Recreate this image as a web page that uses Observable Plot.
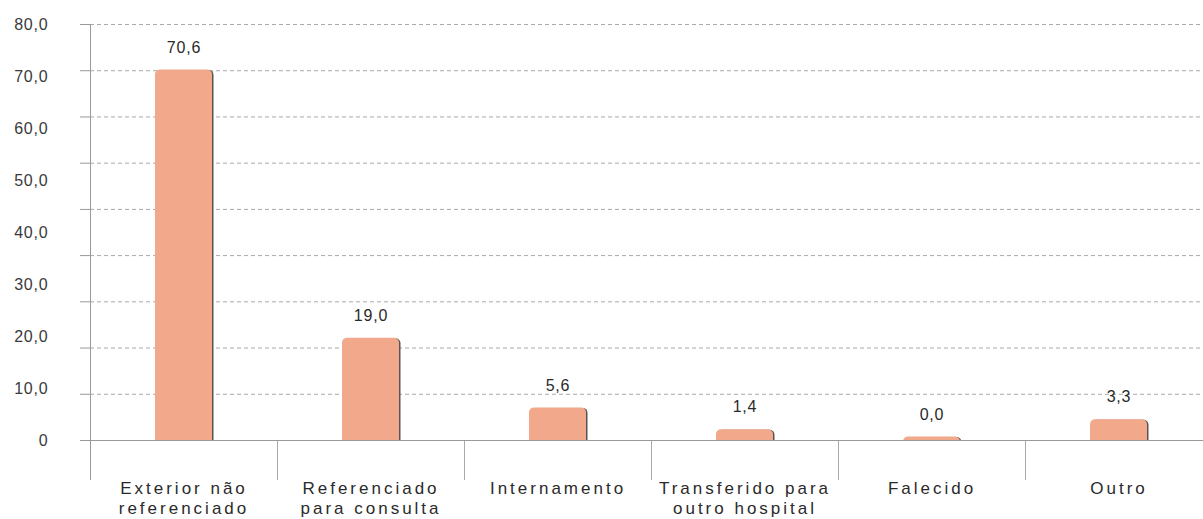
<!DOCTYPE html>
<html>
<head>
<meta charset="utf-8">
<script src="https://cdn.jsdelivr.net/npm/d3@7"></script>
<script src="https://cdn.jsdelivr.net/npm/@observablehq/plot@0.6"></script>
<style>
  html, body { margin: 0; padding: 0; background: #fff; }
  #chart svg { display: block; }
</style>
</head>
<body>
<div id="chart"></div>
<script>
const categories = [
  "Exterior não\nreferenciado",
  "Referenciado\npara consulta",
  "Internamento",
  "Transferido para\noutro hospital",
  "Falecido",
  "Outro"
];
const values = [70.6, 19.0, 5.6, 1.4, 0.0, 3.3];
const valueLabels = ["70,6", "19,0", "5,6", "1,4", "0,0", "3,3"];
const yTicks = [0, 10, 20, 30, 40, 50, 60, 70, 80];
const yTickLabels = ["0", "10,0", "20,0", "30,0", "40,0", "50,0", "60,0", "70,0", "80,0"];
// gridlines in the source are drawn at nine equal divisions, not at the labelled values
const gridLines = [8.89, 17.78, 26.67, 35.56, 44.44, 53.33, 62.22, 71.11, 80];
const gridStubs = [0, 8.89, 17.78, 26.67, 35.56, 44.44, 53.33, 62.22, 71.11, 80];
const dividerBottom = -7.7; // how far category dividers extend below zero (in y units)

const data = categories.map((c, i) => ({cat: c, value: values[i], label: valueLabels[i]}));

const W = 1203, H = 519;
const xRange = [90, 1212];
const step = (xRange[1] - xRange[0]) / categories.length;
const pIn = 0.695;

const chart = Plot.plot({
  width: W,
  height: H,
  marginTop: 24,
  marginBottom: 79,
  marginLeft: 90,
  marginRight: 0,
  style: {fontFamily: "'Liberation Sans', Arial, sans-serif", background: "#fff"},
  x: {type: "band", domain: categories, range: xRange, paddingInner: pIn, paddingOuter: pIn / 2, axis: null},
  y: {domain: [0, 80], axis: null},
  marks: [
    Plot.gridY(gridLines, {stroke: "#aaa", strokeOpacity: 1, strokeDasharray: "4,3"}),
    Plot.axisY(gridStubs, {tickSize: 10, stroke: "#999", tickFormat: () => "", label: null}),
    Plot.axisY(yTicks, {
      tickSize: 0,
      tickPadding: 42,
      fill: "#3a3a3a",
      fontSize: 16,
      label: null,
      tickFormat: d => yTickLabels[yTicks.indexOf(d)]
    }),
    // y axis line
    Plot.ruleX([categories[0]], {dx: -step / 2, y1: dividerBottom, y2: 80, stroke: "#999"}),
    // category dividers
    Plot.ruleX(categories.slice(1), {dx: -step / 2, y1: dividerBottom, y2: 0, stroke: "#aaa"}),
    // bar shadow
    Plot.barY(data, {x: "cat", y: "value", fill: "#555", rx: 5, insetTop: -3.5, insetBottom: -8, dx: 1.5, dy: 0.5, clip: true}),
    // bars
    Plot.barY(data, {x: "cat", y: "value", fill: "#F2A88B", rx: 5, insetTop: -3.5, insetBottom: -8, clip: true}),
    // baseline
    Plot.ruleY([0], {stroke: "#999"}),
    // value labels
    Plot.text(data, {x: "cat", y: "value", text: "label", dy: -26, fontSize: 16, fill: "#2a2a2a"}),
    // category labels
    Plot.text(data, {x: "cat", y: 0, text: "cat", dy: 39, lineAnchor: "top", lineHeight: 1.2, fontSize: 17, fill: "#2a2a2a"})
  ]
});

const svg = chart;
svg.querySelectorAll("text").forEach(t => t.setAttribute("letter-spacing", "0.8"));
const groups = svg.querySelectorAll("g[aria-label='text']");
if (groups.length) {
  const g = groups[groups.length - 1];
  g.setAttribute("letter-spacing", "3");
  g.querySelectorAll("text, tspan").forEach(t => t.setAttribute("letter-spacing", "3"));
}
document.getElementById("chart").appendChild(chart);
</script>
</body>
</html>
